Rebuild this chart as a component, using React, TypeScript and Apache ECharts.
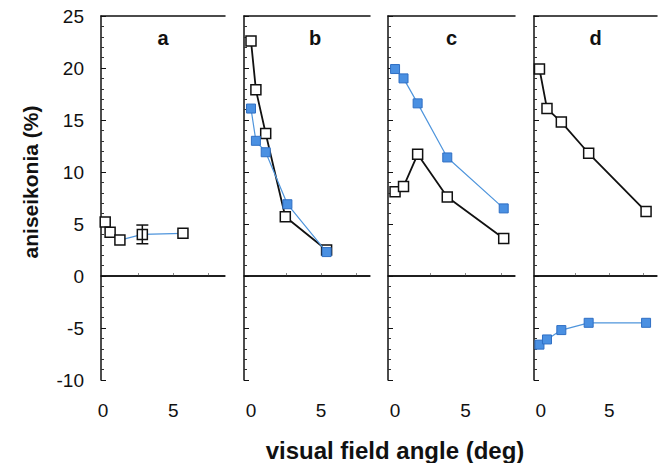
import React, { useEffect, useRef } from "react";
import * as echarts from "echarts";

// ---- data ----
const PANEL_LABELS = ["a", "b", "c", "d"];
const Y_TICKS = [-10, -5, 0, 5, 10, 15, 20, 25];
const X_LABEL_VALUES = [0, 5];
const X_TICK_VALUES = [2.5, 5, 7.5];

// panel a (black open squares joined by a blue line)
const A_X = [0.15, 0.5, 1.2, 2.8, 5.7];
const A_Y = [5.2, 4.2, 3.45, 4.0, 4.1];
const A_ERR = [[2.8, 3.1, 4.9]]; // x, low, high

// panel b
const B_X = [0, 0.35, 1.05, 2.45, 5.4];
const B_BLACK = [22.6, 17.9, 13.7, 5.7, 2.5];
const B_BLUE_X = [0, 0.35, 1.05, 2.6, 5.4];
const B_BLUE = [16.1, 13.0, 11.9, 6.9, 2.3];

// panel c
const C_X = [0, 0.6, 1.6, 3.7, 7.7];
const C_BLUE = [19.9, 19.0, 16.6, 11.4, 6.5];
const C_BLACK = [8.1, 8.6, 11.7, 7.6, 3.6];

// panel d
const D_X = [-0.1, 0.45, 1.5, 3.5, 7.7];
const D_BLACK = [19.9, 16.1, 14.8, 11.8, 6.2];
const D_BLUE = [-6.6, -6.1, -5.2, -4.5, -4.5];

const FONT = "'Liberation Sans', Arial, Helvetica, sans-serif";
const BLUE = "#4a90e2";
const BLUE_LINE = "#4f95dc";
const BLACK = "#111";

const zip = (xs: number[], ys: number[]) => xs.map((x, i) => [x, ys[i]]);

export default function App() {
  const ref = useRef<HTMLDivElement>(null);
  useEffect(() => {
    if (!ref.current) return;
    const chart = echarts.init(ref.current, undefined, { renderer: "svg" });

    const grids = [
      { left: 101, width: 124 },
      { left: 244, width: 126 },
      { left: 388, width: 127 },
      { left: 534, width: 123 },
    ];
    const xRanges = [
      [-0.15, 8.7],
      [-0.5, 8.5],
      [-0.5, 8.5],
      [-0.5, 8.5],
    ];
    const TOP = 16;
    const HEIGHT = 364;

    const xAxes: any[] = [];
    const yAxes: any[] = [];
    grids.forEach((g, i) => {
      xAxes.push({
        type: "value",
        gridIndex: i,
        position: "bottom",
        min: xRanges[i][0],
        max: xRanges[i][1],
        axisLine: { show: true, lineStyle: { color: BLACK, width: 1.5 } },
        axisTick: {
          show: true,
          inside: true,
          length: 3,
          customValues: X_TICK_VALUES,
          lineStyle: { color: "#888", width: 1 },
        },
        axisLabel: {
          show: true,
          customValues: X_LABEL_VALUES,
          fontFamily: FONT,
          fontSize: 19,
          color: BLACK,
          margin: 21,
        },
        splitLine: { show: false },
      });
      xAxes.push({
        type: "value",
        gridIndex: i,
        position: "top",
        min: xRanges[i][0],
        max: xRanges[i][1],
        axisLine: { show: true, lineStyle: { color: BLACK, width: 1.5 } },
        axisTick: { show: false },
        axisLabel: { show: false },
        splitLine: { show: false },
      });
      yAxes.push({
        type: "value",
        gridIndex: i,
        min: Y_TICKS[0],
        max: Y_TICKS[Y_TICKS.length - 1],
        interval: 5,
        axisLine: { show: true, onZero: false, lineStyle: { color: BLACK, width: 1.5 } },
        axisTick: { show: true, inside: true, length: 5, lineStyle: { color: BLACK } },
        minorTick: { show: true, splitNumber: 5, length: 3, lineStyle: { color: "#333" } },
        axisLabel: {
          show: i === 0,
          fontFamily: FONT,
          fontSize: 19,
          color: BLACK,
          margin: 17,
        },
        splitLine: { show: false },
      });
    });

    const blackSym = {
      symbol: "rect",
      symbolSize: 10,
      itemStyle: { color: "#fff", borderColor: BLACK, borderWidth: 1.5 },
    };
    const blueSym = {
      symbol: "rect",
      symbolSize: 9,
      itemStyle: { color: BLUE, borderColor: "#2f6fc4", borderWidth: 1 },
    };
    const zeroLine = {
      silent: true,
      symbol: "none",
      label: { show: false },
      lineStyle: { color: BLACK, width: 1.5, type: "solid" },
      data: [{ yAxis: 0 }],
    };

    const series: any[] = [
      // panel a
      {
        type: "line",
        xAxisIndex: 0,
        yAxisIndex: 0,
        data: zip(A_X, A_Y),
        lineStyle: { color: BLUE_LINE, width: 1.2 },
        ...blackSym,
        markLine: zeroLine,
        z: 3,
      },
      {
        type: "custom",
        xAxisIndex: 0,
        yAxisIndex: 0,
        data: A_ERR,
        z: 4,
        renderItem: (params: any, api: any) => {
          const x = api.value(0);
          const lo = api.coord([x, api.value(1)]);
          const hi = api.coord([x, api.value(2)]);
          const cap = 6;
          const style = { stroke: BLACK, lineWidth: 1.5 };
          return {
            type: "group",
            children: [
              { type: "line", shape: { x1: lo[0], y1: lo[1], x2: hi[0], y2: hi[1] }, style },
              { type: "line", shape: { x1: lo[0] - cap, y1: lo[1], x2: lo[0] + cap, y2: lo[1] }, style },
              { type: "line", shape: { x1: hi[0] - cap, y1: hi[1], x2: hi[0] + cap, y2: hi[1] }, style },
            ],
          };
        },
      },
      // panel b
      {
        type: "line",
        xAxisIndex: 2,
        yAxisIndex: 1,
        data: zip(B_X, B_BLACK),
        lineStyle: { color: BLACK, width: 1.8 },
        ...blackSym,
        markLine: zeroLine,
        z: 3,
      },
      {
        type: "line",
        xAxisIndex: 2,
        yAxisIndex: 1,
        data: zip(B_BLUE_X, B_BLUE),
        lineStyle: { color: BLUE_LINE, width: 1.2 },
        ...blueSym,
        z: 4,
      },
      // panel c
      {
        type: "line",
        xAxisIndex: 4,
        yAxisIndex: 2,
        data: zip(C_X, C_BLUE),
        lineStyle: { color: BLUE_LINE, width: 1.2 },
        ...blueSym,
        markLine: zeroLine,
        z: 3,
      },
      {
        type: "line",
        xAxisIndex: 4,
        yAxisIndex: 2,
        data: zip(C_X, C_BLACK),
        lineStyle: { color: BLACK, width: 1.8 },
        ...blackSym,
        z: 4,
      },
      // panel d
      {
        type: "line",
        xAxisIndex: 6,
        yAxisIndex: 3,
        data: zip(D_X, D_BLACK),
        lineStyle: { color: BLACK, width: 1.8 },
        ...blackSym,
        markLine: zeroLine,
        z: 4,
      },
      {
        type: "line",
        xAxisIndex: 6,
        yAxisIndex: 3,
        data: zip(D_X, D_BLUE),
        lineStyle: { color: BLUE_LINE, width: 1.2 },
        ...blueSym,
        z: 3,
      },
    ];

    const titles = PANEL_LABELS.map((t, i) => ({
      type: "text",
      x: grids[i].left + grids[i].width / 2 + (i === 1 ? 8 : 0),
      y: 38,
      style: {
        text: t,
        font: `bold 20px ${FONT}`,
        fill: BLACK,
        textAlign: "center",
        textVerticalAlign: "middle",
      },
    }));

    chart.setOption({
      animation: false,
      backgroundColor: "#fff",
      grid: grids.map((g) => ({ left: g.left, width: g.width, top: TOP, height: HEIGHT })),
      xAxis: xAxes,
      yAxis: yAxes,
      series,
      graphic: [
        ...titles,
        {
          type: "text",
          x: 30,
          y: 182,
          rotation: Math.PI / 2,
          style: {
            text: "aniseikonia (%)",
            font: `bold 21px ${FONT}`,
            fill: BLACK,
            textAlign: "center",
            textVerticalAlign: "middle",
          },
        },
        {
          type: "text",
          x: 395,
          y: 450,
          style: {
            text: "visual field angle (deg)",
            font: `bold 24px ${FONT}`,
            fill: BLACK,
            textAlign: "center",
            textVerticalAlign: "middle",
          },
        },
      ],
    });
    return () => chart.dispose();
  }, []);
  return (
    <div
      ref={ref}
      style={{ position: "fixed", left: 0, top: 0, width: 660, height: 463 }}
    />
  );
}
